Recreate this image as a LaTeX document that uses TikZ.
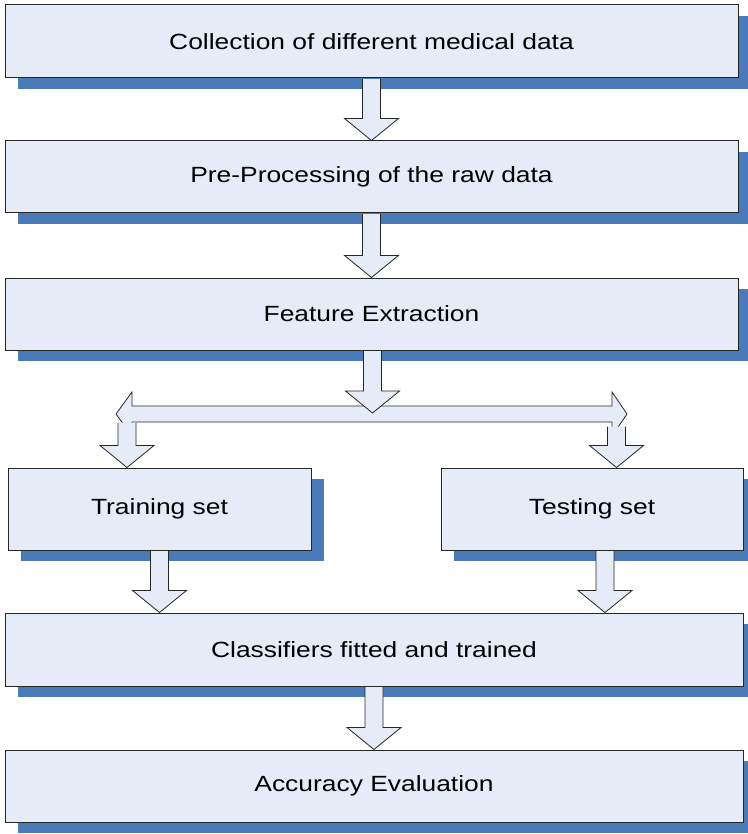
\documentclass[tikz,border=0pt]{standalone}
\usepackage{fontspec}
\newfontfamily\boxfont[FakeStretch=1.2]{Liberation Sans}
\usetikzlibrary{calc,shadows}

\definecolor{boxfill}{HTML}{E6ECF7}
\definecolor{shadowblue}{HTML}{4A7AB9}
\definecolor{edgegray}{HTML}{262626}

\tikzset{
  procbox/.style={draw=edgegray, line width=1pt, fill=boxfill, inner sep=0pt,
    font=\boxfont\fontsize{22}{26}\selectfont,
    drop shadow={shadow xshift=13pt, shadow yshift=-11pt, fill=shadowblue, opacity=1}},
  blockarrow/.style={draw=edgegray, line width=0.8pt, fill=boxfill, line join=miter}
}

% 竖向块箭头: #1 起点, #2 箭尖
\newcommand{\blockdown}[2]{%
  \filldraw[blockarrow] let \p1=(#1), \p2=(#2) in
    (\x1-9pt,\y1-0.6pt) -- (\x1-9pt,\y2+22pt) -- (\x1-27pt,\y2+22pt) -- (\x1,\y2)
    -- (\x1+27pt,\y2+22pt) -- (\x1+9pt,\y2+22pt) -- (\x1+9pt,\y1-0.6pt);
}
% 左右双向块箭头: #1 左箭尖, #2 右箭尖
\newcommand{\blockboth}[2]{%
  \filldraw[blockarrow] let \p1=(#1), \p2=(#2) in
    (\x1,\y1) -- (\x1+16pt,\y1+22pt) -- (\x1+16pt,\y1+8pt) -- (\x2-15pt,\y1+8pt)
    -- (\x2-15pt,\y1+22pt) -- (\x2,\y1) -- (\x2-15pt,\y1-22pt) -- (\x2-15pt,\y1-8pt)
    -- (\x1+16pt,\y1-8pt) -- (\x1+16pt,\y1-22pt) -- cycle;
}

\begin{document}
\begin{tikzpicture}[x=1pt, y=-1pt]
  \useasboundingbox (0,0) rectangle (747,834);

  % 1. 流程框
  \node[procbox, minimum width=733pt, minimum height=73pt] (collect) at (371.5,41.5) {Collection of different medical data};
  \node[procbox, minimum width=733pt, minimum height=72pt] (prep) at (371.5,177) {Pre-Processing of the raw data};
  \node[procbox, minimum width=733pt, minimum height=72pt] (feat) at (371.5,314) {Feature Extraction};
  \node[procbox, minimum width=303pt, minimum height=82pt] (train) at (159.5,509) {Training set};
  \node[procbox, minimum width=302pt, minimum height=82pt] (test) at (592,509) {Testing set};
  \node[procbox, minimum width=738pt, minimum height=73pt] (clf) at (374,649.5) {Classifiers fitted and trained};
  \node[procbox, minimum width=738pt, minimum height=72pt] (acc) at (374,786) {Accuracy Evaluation};

  % 2. 分叉点
  \coordinate (splitL) at (116,414);
  \coordinate (splitR) at (627,414);
  \coordinate (split) at (372.5,413);
  \coordinate (barL) at (127,422);
  \coordinate (barR) at (616.5,426);

  % 3. 块箭头
  \blockdown{collect.south}{collect.south |- prep.north}
  \blockdown{prep.south}{prep.south |- feat.north}
  \blockboth{splitL}{splitR}
  \blockdown{feat.south -| split}{split}
  \blockdown{barL}{barL |- train.north}
  \blockdown{barR}{barR |- test.north}
  \blockdown{train.south}{train.south |- clf.north}
  \blockdown{$(test.south)+(13,0)$}{$(test.south |- clf.north)+(13,0)$}
  \blockdown{clf.south}{clf.south |- acc.north}
\end{tikzpicture}
\end{document}
